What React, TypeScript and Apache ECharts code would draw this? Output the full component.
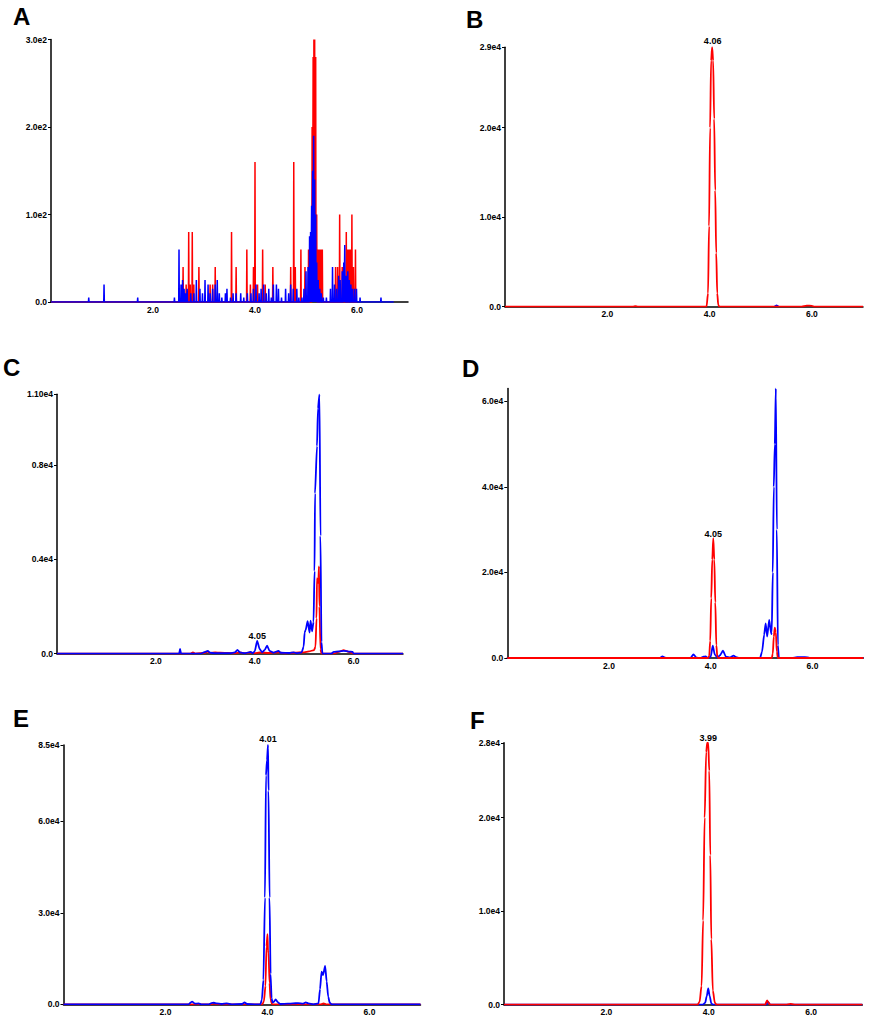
import React, { useEffect, useRef } from "react";
import * as echarts from "echarts";

type P = [number, number];

// ---------- Panel A (stick spectra) ----------
const aRedSpikes: P[] = [
  [2.59, 40], [2.65, 20], [2.70, 80], [2.73, 20], [2.77, 80], [2.80, 20], [2.90, 40], [3.12, 20],
  [3.17, 20], [3.22, 40], [3.54, 80], [3.63, 40], [3.84, 60], [3.91, 20], [3.97, 40], [4.00, 160],
  [4.05, 20], [4.15, 60], [4.20, 20], [4.35, 40], [4.70, 40], [4.76, 160], [4.79, 40], [4.90, 60],
  [4.98, 40], [5.05, 60], [5.08, 60], [5.12, 200], [5.14, 280], [5.155, 300], [5.17, 300], [5.19, 280],
  [5.21, 100], [5.24, 60], [5.27, 60], [5.30, 60], [5.32, 60], [5.58, 40], [5.62, 40], [5.66, 100],
  [5.71, 40], [5.75, 40], [5.79, 80], [5.82, 60], [5.85, 60], [5.87, 60], [5.90, 100], [5.93, 40], [5.97, 60],
];
const aBlueSpikes: P[] = [
  [0.74, 5], [1.04, 20], [1.70, 5], [2.42, 5], [2.51, 60], [2.55, 20], [2.58, 25], [2.61, 15],
  [2.64, 10], [2.67, 15], [2.74, 10], [2.80, 10], [2.85, 25], [2.92, 15], [2.97, 10], [3.02, 25],
  [3.08, 20], [3.12, 10], [3.17, 15], [3.22, 20], [3.26, 25], [3.30, 10], [3.35, 5], [3.42, 10],
  [3.45, 15], [3.52, 5], [3.57, 10], [3.63, 10], [3.72, 10], [3.78, 5], [3.85, 10], [3.92, 10],
  [3.97, 15], [4.02, 20], [4.08, 10], [4.12, 15], [4.17, 20], [4.22, 10], [4.27, 15], [4.32, 5],
  [4.36, 20], [4.42, 20], [4.46, 15], [4.52, 5], [4.60, 15], [4.66, 10], [4.70, 20], [4.75, 15],
  [4.82, 15], [4.86, 5], [4.92, 5], [4.96, 15], [5.00, 35], [5.04, 40], [5.07, 75], [5.09, 80],
  [5.11, 110], [5.13, 150], [5.15, 190], [5.17, 140], [5.19, 100], [5.21, 45], [5.24, 25], [5.27, 15],
  [5.30, 10], [5.34, 5], [5.40, 5], [5.48, 15], [5.52, 40], [5.56, 20], [5.60, 15], [5.64, 30],
  [5.67, 25], [5.71, 35], [5.74, 45], [5.76, 65], [5.79, 30], [5.82, 35], [5.85, 25], [5.88, 20],
  [5.91, 15], [5.95, 15], [5.99, 15], [6.06, 5], [6.47, 5],
];
const aBlueEnd = 6.72;

// ---------- Panel B ----------
const bRed: P[] = [
  [0, 0], [2.5, 0], [2.55, 60], [2.6, 0], [3.94, 0], [3.97, 1500], [3.99, 9000], [4.01, 20000],
  [4.03, 27500], [4.05, 29000], [4.07, 27500], [4.09, 21000], [4.11, 13000], [4.13, 6000],
  [4.15, 1500], [4.17, 200], [4.19, 0], [5.8, 0], [5.9, 120], [6.0, 100], [6.05, 0], [7, 0],
];
const bBlue: P[] = [[5.27, 0], [5.31, 150], [5.35, 0]];

// ---------- Panel C ----------
const cBlue: P[] = [
  [0, 0], [2.47, 0], [2.49, 200], [2.51, 0], [2.9, 0], [3.0, 80], [3.05, 120], [3.1, 40], [3.2, 20],
  [3.5, 20], [3.6, 60], [3.65, 160], [3.7, 60], [3.8, 20], [3.88, 60], [3.92, 80], [3.96, 20],
  [4.0, 100], [4.05, 540], [4.1, 200], [4.15, 60], [4.2, 150], [4.25, 340], [4.3, 120], [4.38, 40],
  [4.45, 100], [4.48, 120], [4.53, 40], [4.7, 30], [4.79, 60], [4.85, 20], [4.95, 60], [4.99, 300],
  [5.01, 900], [5.03, 1000], [5.07, 1380], [5.11, 900], [5.13, 1400], [5.16, 950], [5.19, 1350],
  [5.21, 3500], [5.22, 6800], [5.26, 8800], [5.28, 10400], [5.31, 11000], [5.33, 5000], [5.35, 500],
  [5.37, 0], [5.55, 0], [5.6, 80], [5.7, 100], [5.8, 120], [5.9, 90], [5.98, 80], [6.0, 0], [7, 0],
];
const cRed: P[] = [
  [0, 0], [2.7, 0], [2.75, 60], [2.8, 0], [3.0, 40], [3.05, 80], [3.1, 30], [3.2, 60], [3.3, 40],
  [3.6, 20], [3.7, 60], [3.8, 20], [3.9, 50], [4.0, 20], [4.1, 50], [4.3, 30], [4.5, 60], [4.6, 20],
  [4.8, 40], [5.0, 60], [5.1, 100], [5.2, 150], [5.23, 300], [5.25, 1500], [5.26, 3200], [5.28, 3000],
  [5.29, 3200], [5.30, 3700], [5.31, 2000], [5.33, 200], [5.35, 0], [5.6, 0], [5.7, 80], [5.8, 150],
  [5.85, 120], [5.9, 80], [6.0, 0], [7, 0],
];

// ---------- Panel D ----------
const dBlue: P[] = [
  [0, 0], [3.0, 0], [3.05, 400], [3.1, 100], [3.15, 0], [3.6, 0], [3.66, 850], [3.72, 100], [3.8, 0],
  [3.86, 300], [3.9, 400], [3.94, 0], [4.0, 300], [4.04, 2900], [4.08, 800], [4.13, 100], [4.18, 600],
  [4.24, 1700], [4.3, 300], [4.38, 100], [4.45, 550], [4.5, 200], [4.56, 0], [4.97, 0], [5.01, 1500],
  [5.05, 5400], [5.08, 8100], [5.11, 5000], [5.15, 8900], [5.19, 5600], [5.20, 6000], [5.22, 20000],
  [5.24, 40000], [5.26, 50000], [5.28, 63000], [5.30, 30000], [5.32, 3000], [5.34, 0], [5.6, 0],
  [5.7, 200], [5.8, 200], [5.9, 150], [5.95, 0], [7, 0],
];
const dRed: P[] = [
  [0, 0], [3.95, 0], [3.97, 500], [3.99, 4000], [4.01, 14000], [4.03, 23000], [4.05, 28000],
  [4.07, 23000], [4.09, 13000], [4.11, 3000], [4.13, 300], [4.15, 0], [5.20, 0], [5.22, 1000],
  [5.24, 5000], [5.26, 7100], [5.28, 6000], [5.30, 1500], [5.32, 0], [7, 0],
];

// ---------- Panel E ----------
const eRed: P[] = [
  [0, 0], [2.9, 0], [2.95, 200], [3.0, 0], [3.9, 0], [3.93, 1000], [3.96, 6000], [3.98, 19000],
  [4.00, 23000], [4.01, 17500], [4.02, 17000], [4.04, 7000], [4.06, 1500], [4.09, 0], [5.05, 0],
  [5.1, 300], [5.15, 0], [7, 0],
];
const eBlue: P[] = [
  [0, 0], [2.45, 0], [2.52, 900], [2.58, 200], [2.65, 300], [2.7, 0], [2.85, 0], [2.9, 400],
  [2.95, 500], [3.0, 300], [3.1, 100], [3.2, 300], [3.3, 0], [3.5, 100], [3.55, 600], [3.6, 100],
  [3.75, 0], [3.86, 0], [3.89, 1500], [3.92, 8000], [3.95, 35000], [3.97, 75000], [3.99, 80000],
  [4.01, 85000], [4.02, 70000], [4.04, 35000], [4.06, 10000], [4.08, 2000], [4.10, 600], [4.12, 800],
  [4.16, 1600], [4.2, 700], [4.25, 100], [4.4, 200], [4.5, 300], [4.6, 400], [4.7, 200], [4.75, 600],
  [4.8, 300], [4.9, 0], [5.0, 300], [5.03, 5000], [5.06, 10700], [5.09, 9600], [5.13, 12600],
  [5.16, 7500], [5.19, 2500], [5.22, 500], [5.26, 0], [7, 0],
];

// ---------- Panel F ----------
const fBlue: P[] = [
  [0, 0], [3.88, 0], [3.93, 200], [3.96, 900], [3.99, 1750], [4.02, 900], [4.05, 150], [4.08, 0],
  [5.12, 0], [5.16, 300], [5.2, 0], [7, 0],
];
const fRed: P[] = [
  [0, 0], [3.78, 0], [3.82, 300], [3.86, 2000], [3.89, 9000], [3.92, 20000], [3.95, 27000],
  [3.97, 28000], [3.99, 28000], [4.01, 25000], [4.03, 16000], [4.05, 7000], [4.08, 1500],
  [4.12, 200], [4.15, 0], [5.1, 0], [5.14, 450], [5.17, 200], [5.2, 0], [5.5, 0], [5.6, 80],
  [5.7, 0], [7, 0],
];

// ---------- Axes / labels ----------
const panelLetters = ["A", "B", "C", "D", "E", "F"];
const xTicks = [2, 4, 6];
const yTickValues: number[][] = [
  [0, 100, 200, 300],
  [0, 10000, 20000, 29000],
  [0, 4000, 8000, 11000],
  [0, 20000, 40000, 60000],
  [0, 30000, 60000, 85000],
  [0, 10000, 20000, 28000],
];
const yTickLabels: string[][] = [
  ["0.0", "1.0e2", "2.0e2", "3.0e2"],
  ["0.0", "1.0e4", "2.0e4", "2.9e4"],
  ["0.0", "0.4e4", "0.8e4", "1.10e4"],
  ["0.0", "2.0e4", "4.0e4", "6.0e4"],
  ["0.0", "3.0e4", "6.0e4", "8.5e4"],
  ["0.0", "1.0e4", "2.0e4", "2.8e4"],
];
const yMax = [300, 29000, 11000, 63000, 85000, 28000];
const peakLabels: { panel: number; text: string; t: number; v: number; series: string }[] = [
  { panel: 1, text: "4.06", t: 4.06, v: 29000, series: "red" },
  { panel: 2, text: "4.05", t: 4.05, v: 540, series: "blue" },
  { panel: 3, text: "4.05", t: 4.05, v: 28000, series: "red" },
  { panel: 4, text: "4.01", t: 4.01, v: 85000, series: "blue" },
  { panel: 5, text: "3.99", t: 3.99, v: 28000, series: "red" },
];

// layout (pixels)
const grids = [
  { left: 51, top: 39.5, width: 357, height: 262.5 },
  { left: 505, top: 47.2, width: 358, height: 259.5 },
  { left: 57, top: 394.3, width: 346, height: 259.4 },
  { left: 507.3, top: 388.5, width: 356, height: 269.5 },
  { left: 63.5, top: 745, width: 357, height: 259.3 },
  { left: 504, top: 742.8, width: 358.3, height: 261.9 },
];
const letterPos = [
  [13, 16], [466, 19], [3, 367], [462, 368], [13, 718], [470, 720],
];
const labelDist = [0, 2, 0, 0, 2, 0];

const FONT = '"Liberation Sans", Arial, Helvetica, sans-serif';
const RED = "#ff0000";
const BLUE = "#0000ff";

function spikeLine(list: P[], end: number): P[] {
  const out: P[] = [[0, 0]];
  const w = 0.006;
  for (const [t, h] of list) {
    out.push([t - w, 0], [t, h], [t + w, 0]);
  }
  out.push([end, 0]);
  return out;
}

export default function App() {
  const ref = useRef<HTMLDivElement>(null);
  useEffect(() => {
    if (!ref.current) return;
    const chart = echarts.init(ref.current, undefined, { renderer: "svg" });

    const xAxis = grids.map((_, i) => ({
      type: "value",
      gridIndex: i,
      min: 0,
      max: 7,
      axisLine: { onZero: false, lineStyle: { color: "#000", width: 1.5 } },
      axisTick: { show: false },
      splitLine: { show: false },
      axisLabel: {
        customValues: xTicks,
        formatter: (v: number) => v.toFixed(1),
        fontSize: 8.5,
        fontWeight: "bold",
        fontFamily: FONT,
        color: "#000",
        margin: 3,
      },
    }));
    const yAxis = grids.map((_, i) => ({
      type: "value",
      gridIndex: i,
      min: 0,
      max: yMax[i],
      axisLine: { show: true, lineStyle: { color: "#000", width: 1.5 } },
      axisTick: { show: true, length: 3, customValues: yTickValues[i], lineStyle: { color: "#000", width: 1 } },
      splitLine: { show: false },
      axisLabel: {
        customValues: yTickValues[i],
        formatter: (v: number) => {
          const k = yTickValues[i].indexOf(v);
          return k >= 0 ? yTickLabels[i][k] : "";
        },
        fontSize: 8.5,
        fontWeight: "bold",
        fontFamily: FONT,
        color: "#000",
        margin: 4,
      },
    }));

    const mk = (i: number, name: string, data: P[], color: string, width: number, smooth: number | boolean) => {
      const lbl = peakLabels.find((p) => p.panel === i && p.series === name);
      const s: any = {
        type: "line",
        name: name + i,
        xAxisIndex: i,
        yAxisIndex: i,
        data,
        showSymbol: false,
        smooth,
        smoothMonotone: "x",
        lineStyle: { color, width },
        itemStyle: { color },
        silent: true,
      };
      if (lbl) {
        s.markPoint = {
          symbol: "circle",
          symbolSize: 0,
          silent: true,
          label: {
            show: true,
            position: "top",
            distance: labelDist[i],
            formatter: lbl.text,
            fontSize: 9,
            fontWeight: "bold",
            fontFamily: FONT,
            color: "#000",
          },
          data: [{ coord: [lbl.t, lbl.v], value: lbl.text }],
        };
      }
      return s;
    };

    const series = [
      mk(0, "red", spikeLine(aRedSpikes, 6.0), RED, 1.5, false),
      mk(0, "blue", spikeLine(aBlueSpikes, aBlueEnd), BLUE, 1.5, false),
      mk(1, "blue", bBlue, BLUE, 1.8, 0.3),
      mk(1, "red", bRed, RED, 1.8, 0.3),
      mk(2, "red", cRed, RED, 1.8, 0.2),
      mk(2, "blue", cBlue, BLUE, 1.8, 0.2),
      mk(3, "blue", dBlue, BLUE, 1.8, 0.2),
      mk(3, "red", dRed, RED, 1.8, 0.3),
      mk(4, "red", eRed, RED, 1.8, 0.2),
      mk(4, "blue", eBlue, BLUE, 1.8, 0.2),
      mk(5, "blue", fBlue, BLUE, 1.8, 0.3),
      mk(5, "red", fRed, RED, 1.8, 0.3),
    ];

    chart.setOption({
      animation: false,
      backgroundColor: "#fff",
      grid: grids.map((g) => ({ ...g, containLabel: false })),
      xAxis,
      yAxis,
      series,
      graphic: panelLetters.map((L, i) => ({
        type: "text",
        x: letterPos[i][0],
        y: letterPos[i][1],
        style: {
          text: L,
          font: `bold 24px ${FONT}`,
          fill: "#000",
          verticalAlign: "middle",
          align: "left",
        },
      })),
    });
    return () => chart.dispose();
  }, []);
  return (
    <div
      ref={ref}
      style={{ position: "absolute", left: 0, top: 0, width: 870, height: 1020, background: "#fff" }}
    />
  );
}
